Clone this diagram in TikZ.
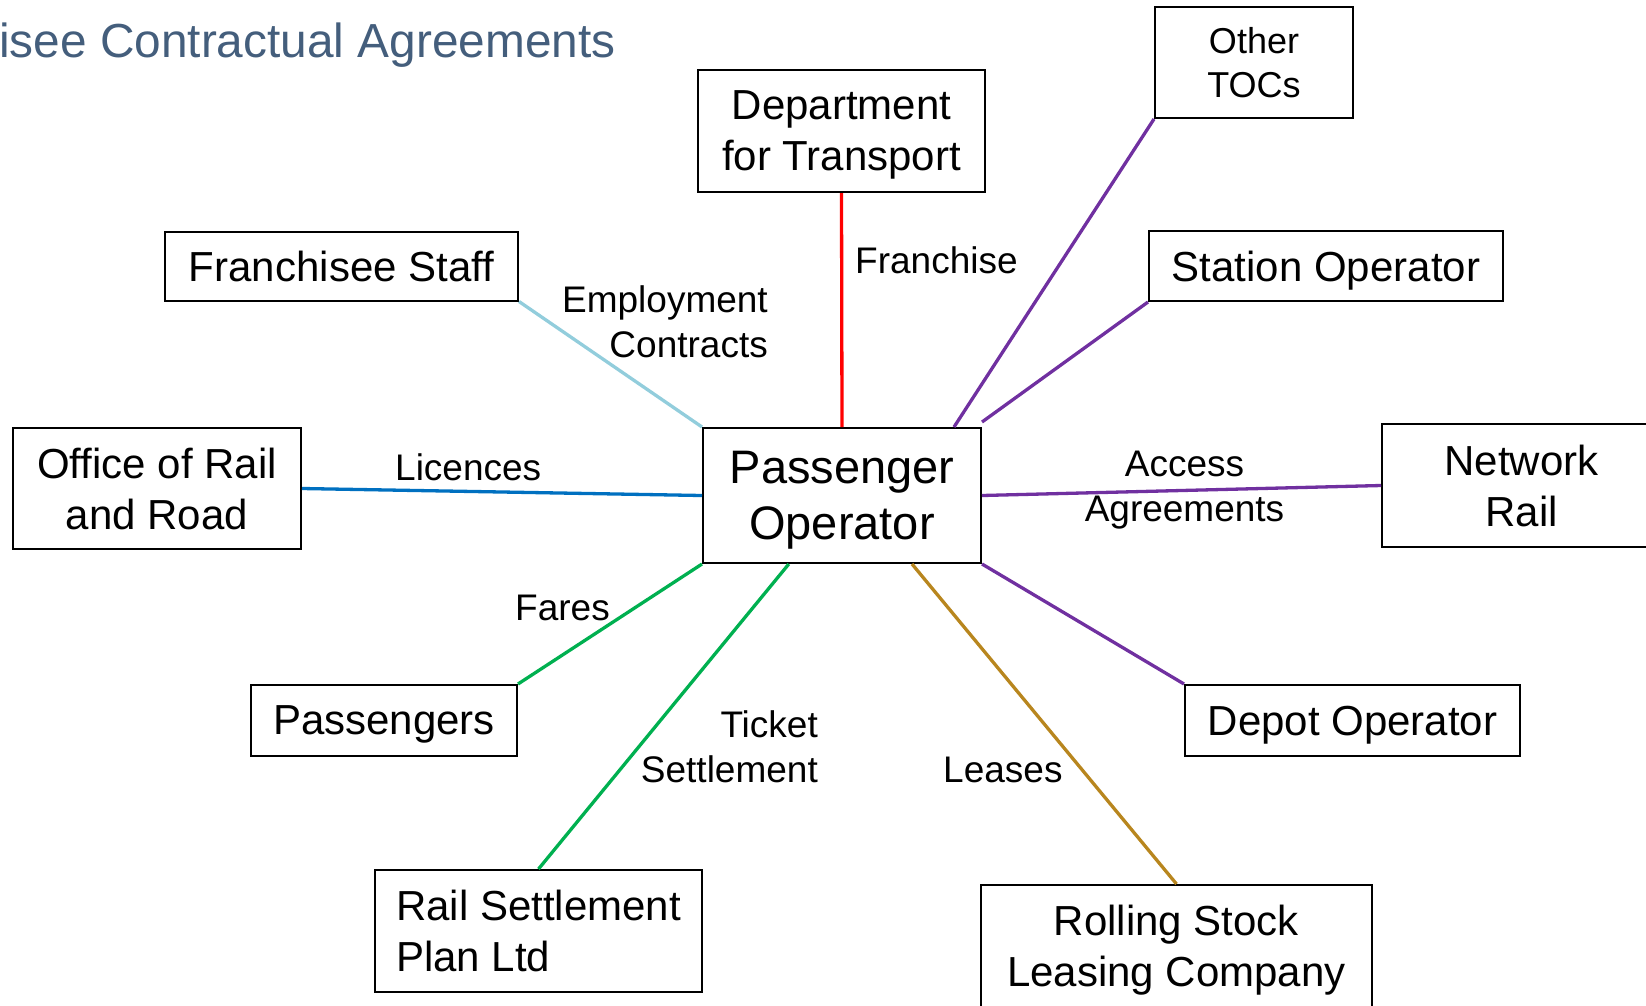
\documentclass[tikz,border=0pt]{standalone}
\usepackage{fontspec}
\setmainfont{Liberation Sans}
\usetikzlibrary{calc}
\definecolor{titleblue}{RGB}{68,94,124}
\definecolor{staffblue}{RGB}{146,205,220}
\definecolor{dftred}{RGB}{255,0,0}
\definecolor{orrblue}{RGB}{0,112,192}
\definecolor{faregreen}{RGB}{0,176,80}
\definecolor{tocpurple}{RGB}{112,48,160}
\definecolor{leasegold}{RGB}{184,134,30}
\begin{document}
\begin{tikzpicture}[x=1pt,y=-1pt,
  box/.style={draw=black, line width=2pt, inner sep=0pt, align=center,
              text depth=0pt, font=\fontsize{42}{51}\selectfont},
  link/.style={line width=3.3pt},
  lbl/.style={inner sep=0pt, font=\fontsize{37}{45}\selectfont}]
\useasboundingbox (0,0) rectangle (1646,1005);
\clip (0,0) rectangle (1646,1005);

% heading
\node[anchor=base west, inner sep=0pt, text=titleblue,
      font=\fontsize{47.8}{57}\selectfont] (title) at (-1,57) {isee Contractual Agreements};

% parties
\node[box, minimum width=278pt, minimum height=135pt,
      font=\fontsize{47}{56}\selectfont] (po) at (842,495.5) {Passenger\\Operator};
\node[box, minimum width=198pt, minimum height=111pt,
      font=\fontsize{36}{44}\selectfont] (oth) at (1254,62.5) {Other\\TOCs};
\node[box, minimum width=287pt, minimum height=122pt] (dft) at (841.5,131) {Department\\for Transport};
\node[box, minimum width=353pt, minimum height=69pt] (fs) at (341.5,266) {Franchisee Staff};
\node[box, minimum width=354pt, minimum height=70pt] (so) at (1326,266) {Station Operator};
\node[box, minimum width=288pt, minimum height=121pt] (orr) at (157,488.5) {Office of Rail\\and Road};
\node[box, minimum width=279pt, minimum height=123pt] (nr) at (1521.5,485.5) {Network\\Rail};
\node[box, minimum width=266pt, minimum height=71pt] (pas) at (384,720.5) {Passengers};
\node[box, minimum width=335pt, minimum height=71pt] (dep) at (1352.5,720.5) {Depot Operator};
\node[box, align=left, minimum width=327pt, minimum height=122pt] (rsp) at (538.5,931) {Rail Settlement\\Plan Ltd};
\node[box, minimum width=391pt, minimum height=122pt] (rsl) at (1176.5,946) {Rolling Stock\\Leasing Company};

% contractual links
\coordinate (soend) at ($(po.north east)+(0,-5)$);
\coordinate (othend) at ($(po.north west)!0.9!(po.north east)$);
\coordinate (tsend) at ($(po.south west)!0.31!(po.south east)$);
\coordinate (lsend) at ($(po.south west)!0.75!(po.south east)$);

\draw[link, staffblue] (fs.south east) -- (po.north west);
\draw[link, dftred] (dft.south) -- (po.north);
\draw[link, orrblue] (orr.east) -- (po.west);
\draw[link, faregreen] (pas.north east) -- (po.south west);
\draw[link, faregreen] (rsp.north) -- (tsend);
\draw[link, leasegold] (lsend) -- (rsl.north);
\draw[link, tocpurple] (po.south east) -- (dep.north west);
\draw[link, tocpurple] (po.east) -- (nr.west);
\draw[link, tocpurple] (soend) -- (so.south west);
\draw[link, tocpurple] (othend) -- (oth.south west);

% link captions (base = baseline of the last line)
\node[lbl, anchor=base west] (lfr) at (855,273) {Franchise};
\node[lbl, anchor=base east, align=right] (lemp) at (768,357) {Employment\\Contracts};
\node[lbl, anchor=base west] (llic) at (395,480) {Licences};
\node[lbl, anchor=base west] (lfar) at (515,620) {Fares};
\node[lbl, anchor=base east, align=right] (ltick) at (818,782) {Ticket\\Settlement};
\node[lbl, anchor=base west] (llea) at (943,782) {Leases};
\node[lbl, anchor=base, align=center] (lacc) at (1184.5,521) {Access\\Agreements};
\end{tikzpicture}
\end{document}
